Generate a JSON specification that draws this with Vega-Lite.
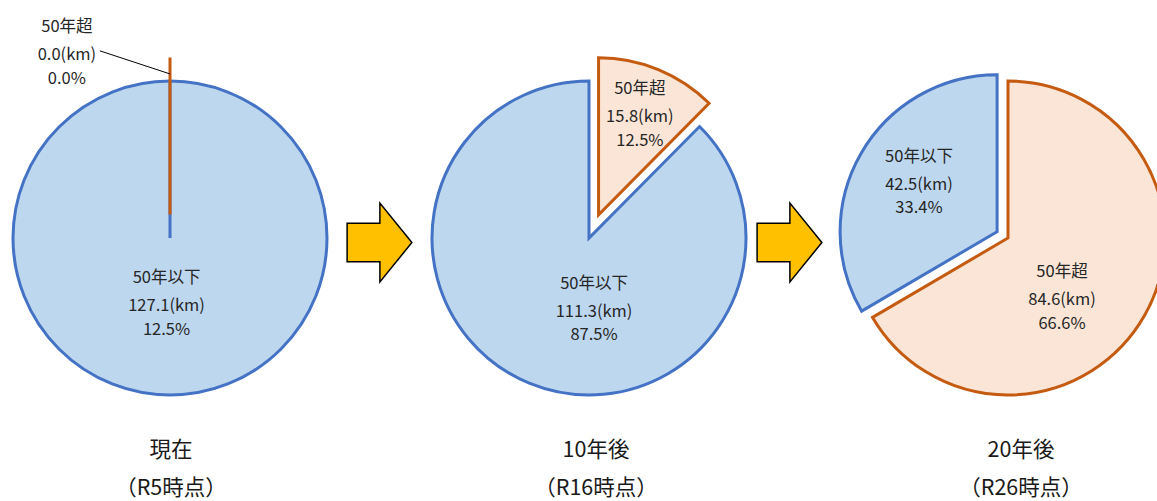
{
  "$schema": "https://vega.github.io/schema/vega-lite/v6.json",
  "width": 1157,
  "height": 476,
  "autosize": "none",
  "padding": {"top": 0, "left": 0, "right": 0, "bottom": 25},
  "background": "white",
  "config": {"view": {"stroke": null}, "font": "Noto Sans CJK JP"},
  "datasets": {
    "lengths": [
      {"period": "現在", "sub": "（R5時点）", "category": "50年以下", "km": 127.1, "pct": 12.5},
      {"period": "現在", "sub": "（R5時点）", "category": "50年超", "km": 0.0, "pct": 0.0},
      {"period": "10年後", "sub": "（R16時点）", "category": "50年以下", "km": 111.3, "pct": 87.5},
      {"period": "10年後", "sub": "（R16時点）", "category": "50年超", "km": 15.8, "pct": 12.5},
      {"period": "20年後", "sub": "（R26時点）", "category": "50年以下", "km": 42.5, "pct": 33.4},
      {"period": "20年後", "sub": "（R26時点）", "category": "50年超", "km": 84.6, "pct": 66.6}
    ],
    "arrows": [
      {"from": "現在", "to": "10年後"},
      {"from": "10年後", "to": "20年後"}
    ]
  },
  "resolve": {"scale": {"x": "independent", "y": "independent"}},
  "layer": [
    {
      "data": {"name": "lengths"},
      "transform": [
        {"stack": "km", "groupby": ["period"], "offset": "normalize", "sort": [{"field": "category", "order": "descending"}], "as": ["t0", "t1"]},
        {"calculate": "PI * (datum.t0 + datum.t1)", "as": "mid"},
        {"calculate": "(datum.period === '現在' && datum.category === '50年超') ? 0.15 : (datum.period === '10年後' && datum.category === '50年超') ? 0.16 : (datum.period === '20年後' && datum.category === '50年以下') ? 0.08 : 0", "as": "explode"},
        {"calculate": "datum.explode * sin(datum.mid)", "as": "ox"},
        {"calculate": "-datum.explode * cos(datum.mid)", "as": "oy"},
        {"calculate": "datum.period === '現在' ? (datum.category === '50年超' ? 327.1 : 182.9) : datum.period === '10年後' ? (datum.category === '50年超' ? 22.9 : 176.1) : (datum.category === '50年超' ? 138.95 : 300.9)", "as": "labelAngle"},
        {"calculate": "datum.period === '現在' ? (datum.category === '50年超' ? 1.209 : 0.434) : datum.period === '10年後' ? (datum.category === '50年超' ? 0.676 : 0.472) : (datum.category === '50年超' ? 0.524 : 0.58)", "as": "labelRadius"},
        {"calculate": "datum.ox + datum.labelRadius * sin(datum.labelAngle * PI / 180)", "as": "lx"},
        {"calculate": "datum.oy - datum.labelRadius * cos(datum.labelAngle * PI / 180)", "as": "ly"},
        {"calculate": "format(datum.km, '.1f') + '(km)'", "as": "kmText"},
        {"calculate": "format(datum.pct, '.1f') + '%'", "as": "pctText"},
        {"calculate": "'pie'", "as": "band"}
      ],
      "encoding": {
        "x": {"field": "period", "type": "nominal", "scale": {"type": "point", "padding": 0, "domain": ["現在", "10年後", "20年後"], "range": [170, 1008]}, "axis": null},
        "y": {"field": "band", "type": "nominal", "scale": {"type": "point", "padding": 0.5, "range": [0, 476]}, "axis": null},
        "theta": {"field": "t0", "type": "quantitative", "stack": null, "scale": {"domain": [0, 1]}},
        "fill": {"field": "category", "type": "nominal", "scale": {"domain": ["50年以下", "50年超"], "range": ["#BDD7EE", "#FBE5D6"]}, "legend": null},
        "stroke": {"field": "category", "type": "nominal", "scale": {"domain": ["50年以下", "50年超"], "range": ["#4472C4", "#C55A11"]}, "legend": null}
      },
      "layer": [
        {
          "transform": [{"filter": "datum.category === '50年以下'"}],
          "mark": {"type": "arc", "radius": 157, "strokeWidth": 3, "strokeJoin": "miter"},
          "encoding": {
            "theta2": {"field": "t1"},
            "xOffset": {"field": "ox", "type": "quantitative", "scale": {"domain": [-1, 1], "range": [-157, 157]}},
            "yOffset": {"field": "oy", "type": "quantitative", "scale": {"domain": [-1, 1], "range": [-157, 157]}}
          }
        },
        {
          "transform": [{"filter": "datum.t1 - datum.t0 > 0.999999"}],
          "mark": {"type": "arc", "radius": 157, "strokeWidth": 3, "strokeCap": "round", "fillOpacity": 0},
          "encoding": {
            "theta2": {"field": "t0"},
            "xOffset": {"field": "ox", "type": "quantitative", "scale": {"domain": [-1, 1], "range": [-157, 157]}},
            "yOffset": {"field": "oy", "type": "quantitative", "scale": {"domain": [-1, 1], "range": [-157, 157]}}
          }
        },
        {
          "transform": [{"filter": "datum.category === '50年超'"}],
          "mark": {"type": "arc", "radius": 157, "strokeWidth": 3, "strokeJoin": "miter"},
          "encoding": {
            "theta2": {"field": "t1"},
            "xOffset": {"field": "ox", "type": "quantitative", "scale": {"domain": [-1, 1], "range": [-157, 157]}},
            "yOffset": {"field": "oy", "type": "quantitative", "scale": {"domain": [-1, 1], "range": [-157, 157]}}
          }
        },
        {
          "transform": [
            {"filter": "datum.km === 0"},
            {"calculate": "[[datum.lx + 0.21, datum.ly - 0.027], [datum.ox, datum.oy - 0.895]]", "as": "pts"},
            {"flatten": ["pts"]},
            {"calculate": "datum.pts[0]", "as": "px"},
            {"calculate": "datum.pts[1]", "as": "py"}
          ],
          "mark": {"type": "line", "color": "#000000", "strokeWidth": 1},
          "encoding": {
            "theta": null,
            "fill": null,
            "stroke": null,
            "xOffset": {"field": "px", "type": "quantitative", "scale": {"domain": [-1, 1], "range": [-157, 157]}},
            "yOffset": {"field": "py", "type": "quantitative", "scale": {"domain": [-1, 1], "range": [-157, 157]}}
          }
        },
        {
          "mark": {"type": "text", "dy": -28, "fontSize": 16.5, "color": "#262626", "align": "center", "baseline": "middle"},
          "encoding": {
            "theta": null,
            "fill": null,
            "stroke": null,
            "text": {"field": "category"},
            "xOffset": {"field": "lx", "type": "quantitative", "scale": {"domain": [-1, 1], "range": [-157, 157]}},
            "yOffset": {"field": "ly", "type": "quantitative", "scale": {"domain": [-1, 1], "range": [-157, 157]}}
          }
        },
        {
          "mark": {"type": "text", "fontSize": 16.5, "color": "#262626", "align": "center", "baseline": "middle"},
          "encoding": {
            "theta": null,
            "fill": null,
            "stroke": null,
            "text": {"field": "kmText"},
            "xOffset": {"field": "lx", "type": "quantitative", "scale": {"domain": [-1, 1], "range": [-157, 157]}},
            "yOffset": {"field": "ly", "type": "quantitative", "scale": {"domain": [-1, 1], "range": [-157, 157]}}
          }
        },
        {
          "mark": {"type": "text", "dy": 23.5, "fontSize": 16.5, "color": "#262626", "align": "center", "baseline": "middle"},
          "encoding": {
            "theta": null,
            "fill": null,
            "stroke": null,
            "text": {"field": "pctText"},
            "xOffset": {"field": "lx", "type": "quantitative", "scale": {"domain": [-1, 1], "range": [-157, 157]}},
            "yOffset": {"field": "ly", "type": "quantitative", "scale": {"domain": [-1, 1], "range": [-157, 157]}}
          }
        }
      ]
    },
    {
      "data": {"name": "lengths"},
      "transform": [{"filter": "datum.category === '50年以下'"}],
      "encoding": {
        "x": {"field": "period", "type": "nominal", "scale": {"type": "point", "padding": 0, "domain": ["現在", "10年後", "20年後"], "range": [171, 1021]}, "axis": null}
      },
      "layer": [
        {
          "mark": {"type": "text", "dy": 213, "fontSize": 21.5, "color": "#1a1a1a", "align": "center", "baseline": "middle"},
          "encoding": {"text": {"field": "period"}}
        },
        {
          "mark": {"type": "text", "dy": 251, "fontSize": 21.5, "color": "#1a1a1a", "align": "center", "baseline": "middle"},
          "encoding": {"text": {"field": "sub"}}
        }
      ]
    },
    {
      "data": {"name": "arrows"},
      "mark": {
        "type": "point",
        "shape": "M-0.82,-0.49L0.01,-0.49L0.01,-1L0.82,0L0.01,1L0.01,0.49L-0.82,0.49Z",
        "size": 6241,
        "filled": true,
        "fill": "#FFC000",
        "stroke": "#000000",
        "strokeWidth": 1.5,
        "opacity": 1,
        "yOffset": 4.5
      },
      "encoding": {
        "x": {"field": "from", "type": "nominal", "scale": {"type": "point", "padding": 0, "domain": ["現在", "10年後"], "range": [379.5, 789.5]}, "axis": null}
      }
    }
  ]
}
